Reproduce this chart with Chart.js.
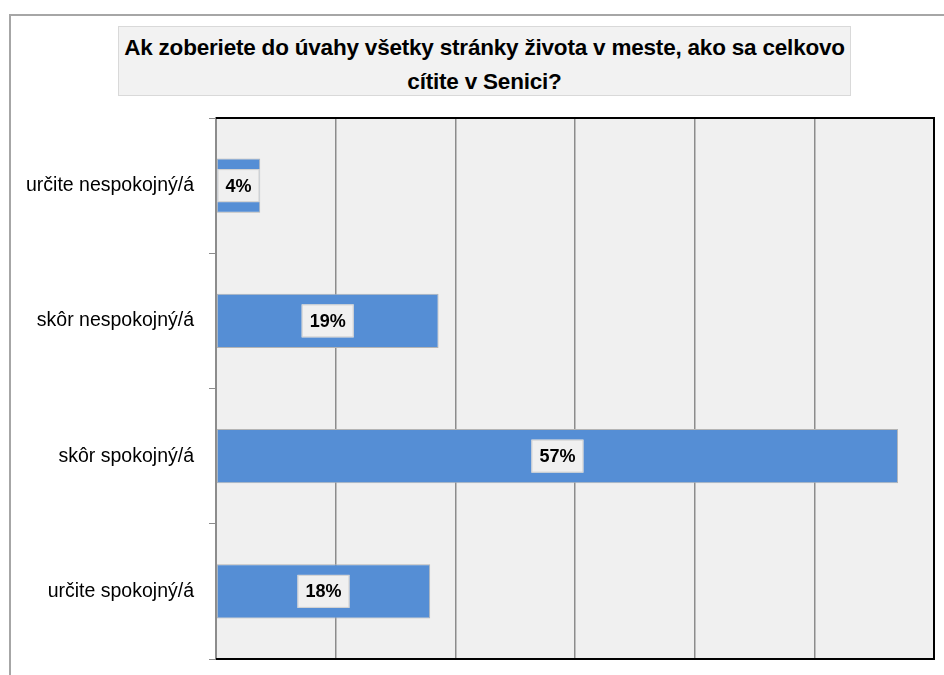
<!DOCTYPE html>
<html>
<head>
<meta charset="utf-8">
<script src="https://cdn.jsdelivr.net/npm/chart.js@4/dist/chart.umd.min.js"></script>
<style>
  html, body { margin: 0; padding: 0; background: #fff; }
  #wrap { position: relative; width: 944px; height: 675px; overflow: hidden; }
  #frame { position: absolute; left: 9px; top: 14px; width: 1000px; height: 1000px; border: 2px solid #a6a6a6; box-sizing: border-box; }
  #titulo {
    position: absolute; left: 118px; top: 26px; width: 733px; height: 70px;
    background: #f2f2f2; border: 1px solid #d9d9d9; box-sizing: border-box;
    font-family: "Liberation Sans", sans-serif; font-weight: bold;
    font-size: 22.5px; line-height: 34px; text-align: center; color: #000; padding-top: 4px;
    letter-spacing: -0.2px; white-space: nowrap;
  }
  canvas { position: absolute; left: 0; top: 0; }
</style>
</head>
<body>
<div id="wrap">
  <div id="frame"></div>
  <canvas id="grafico" width="944" height="675"></canvas>
  <div id="titulo">Ak zoberiete do úvahy všetky stránky života v meste, ako sa celkovo<br>cítite v Senici?</div>
</div>
<script>
const kategorie = ['určite nespokojný/á', 'skôr nespokojný/á', 'skôr spokojný/á', 'určite spokojný/á'];
const hodnoty = [3.7, 18.6, 57, 17.9];

const pozadie = {
    id: 'pozadie',
    beforeDraw(chart) {
        const a = chart.chartArea;
        const c = chart.ctx;
        c.save();
        c.fillStyle = '#f0f0f0';
        c.fillRect(a.left, a.top, a.right - a.left, a.bottom - a.top);
        c.restore();
    },
    afterDatasetsDraw(chart) {
        const a = chart.chartArea;
        const c = chart.ctx;
        c.save();
        // ramik
        c.strokeStyle = '#000';
        c.lineWidth = 2;
        c.beginPath();
        c.moveTo(a.left, a.top);
        c.lineTo(a.right, a.top);
        c.lineTo(a.right, a.bottom);
        c.lineTo(a.left, a.bottom);
        c.stroke();
        // popisky
        const meta = chart.getDatasetMeta(0);
        c.font = 'bold 18px "Liberation Sans", sans-serif';
        c.textAlign = 'center';
        c.textBaseline = 'middle';
        meta.data.forEach(function(bar, i) {
            const txt = Math.round(hodnoty[i]) + '%';
            const x = (bar.base + bar.x) / 2;
            const y = bar.y;
            const w = Math.round(c.measureText(txt).width) + 16, h = 33;
            c.fillStyle = '#f0f0f0';
            c.fillRect(x - w / 2, y - h / 2, w, h);
            c.strokeStyle = '#d0d0d0';
            c.lineWidth = 1;
            c.strokeRect(x - w / 2 + 0.5, y - h / 2 + 0.5, w - 1, h - 1);
            c.fillStyle = '#000';
            c.fillText(txt, x, y + 1);
        });
        c.restore();
    }
};

new Chart(document.getElementById('grafico').getContext('2d'), {
    type: 'bar',
    data: {
        labels: kategorie,
        datasets: [{
            data: hodnoty,
            backgroundColor: '#558ed5',
            borderColor: '#b4b4b4',
            borderWidth: 1,
            borderSkipped: false,
            barPercentage: 0.4,
            categoryPercentage: 1
        }]
    },
    options: {
        indexAxis: 'y',
        responsive: false,
        animation: false,
        layout: { padding: { top: 118, right: 10, bottom: 16, left: 0 } },
        plugins: { legend: { display: false }, tooltip: { enabled: false } },
        scales: {
            x: {
                min: 0,
                max: 60,
                ticks: { display: false, stepSize: 10 },
                grid: { color: '#8c8c8c', lineWidth: 1.5, drawTicks: false },
                border: { display: false },
                afterFit: function(s) { s.height = 0; s.paddingLeft = 0; s.paddingRight = 0; }
            },
            y: {
                offset: true,
                grid: { offset: true, drawOnChartArea: false, color: '#8c8c8c', tickLength: 7 },
                border: { color: '#8c8c8c', width: 2 },
                ticks: {
                    color: '#000',
                    padding: 15,
                    font: { family: '"Liberation Sans", sans-serif', size: 19.5 }
                },
                afterFit: function(s) { s.width = 216; s.paddingTop = 0; s.paddingBottom = 0; }
            }
        }
    },
    plugins: [pozadie]
});
</script>
</body>
</html>
